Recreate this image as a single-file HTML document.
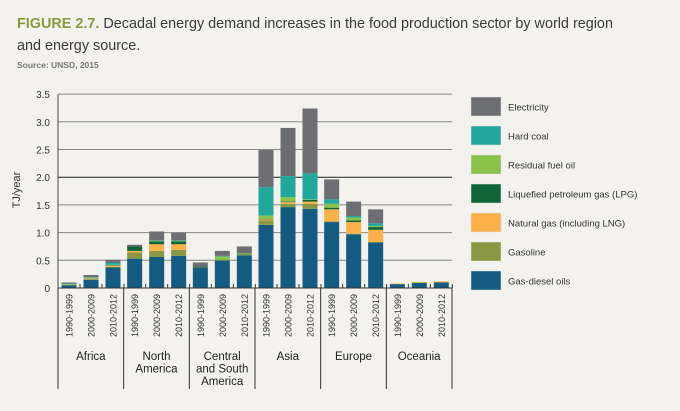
<!DOCTYPE html>
<html><head><meta charset="utf-8"><style>
body{margin:0;background:#f3f2ee;font-family:"Liberation Sans",sans-serif}
svg{display:block}
</style></head><body>
<svg id="c" width="680" height="411" xmlns="http://www.w3.org/2000/svg">
<rect width="680" height="411" fill="#f3f2ee"/>
<text x="17" y="28" font-size="14.4" fill="#3a3a3a"><tspan font-weight="bold" fill="#8a9a3c">FIGURE 2.7.</tspan> Decadal energy demand increases in the food production sector by world region</text>
<text x="17" y="50" font-size="14.4" fill="#3a3a3a">and energy source.</text>
<text x="17" y="68" font-size="8.5" font-weight="bold" fill="#777">Source: UNSD, 2015</text>
<text transform="translate(20,190) rotate(-90)" text-anchor="middle" font-size="11" fill="#333">TJ/year</text>
<g id="grid"></g><g id="bars"></g><g id="xaxis"></g><g id="legend"></g>
</svg>
<script>
const regions=["Africa","North America","Central and South America","Asia","Europe","Oceania"];
const regionLines=[["Africa"],["North","America"],["Central","and South","America"],["Asia"],["Europe"],["Oceania"]];
const periods=["1990-1999","2000-2009","2010-2012"];
const sources=["Gas-diesel oils","Gasoline","Natural gas (including LNG)","Liquefied petroleum gas (LPG)","Residual fuel oil","Hard coal","Electricity"];
const colors=["#135b80","#8a9843","#fbb04a","#0e6437","#8bc34a","#22a79c","#6d6e71"];
const yTicks=[0,0.5,1.0,1.5,2.0,2.5,3.0,3.5];
const gasDiesel=[0.05,0.15,0.37, 0.53,0.56,0.58, 0.37,0.49,0.59, 1.14,1.46,1.43, 1.19,0.97,0.82, 0.07,0.09,0.10];
const gasoline=[0.01,0.01,0.01, 0.11,0.11,0.11, 0.01,0.01,0.02, 0.08,0.06,0.09, 0.01,0.01,0.01, 0,0,0];
const natGas=[0,0.01,0.02, 0.03,0.12,0.10, 0,0,0, 0.02,0.03,0.04, 0.22,0.21,0.22, 0.01,0.01,0.02];
const lpg=[0,0.005,0.01, 0.08,0.05,0.05, 0.01,0.01,0.01, 0.01,0.01,0.03, 0.03,0.03,0.05, 0,0,0];
const residual=[0.01,0.01,0.01, 0,0.01,0.01, 0,0.06,0.01, 0.06,0.08,0.01, 0.07,0.05,0.02, 0,0.01,0];
const hardCoal=[0.01,0.01,0.04, 0,0.01,0.01, 0,0.01,0, 0.51,0.38,0.47, 0.08,0.03,0.05, 0,0,0];
const electricity=[0.02,0.04,0.05, 0.03,0.16,0.14, 0.07,0.09,0.12, 0.67,0.87,1.17, 0.36,0.26,0.25, 0,0,0];
const series=[gasDiesel,gasoline,natGas,lpg,residual,hardCoal,electricity];
const NS="http://www.w3.org/2000/svg";
const X0=58,X1=452,Y0=288,PX=55.4;
const gw=(X1-X0)/regions.length;
const y=v=>Y0-v*PX;
const xc=(g,p)=>X0+g*gw+11+p*22;
function mk(tag,at,parent,txt){const e=document.createElementNS(NS,tag);for(const k in at)e.setAttribute(k,at[k]);if(txt!==undefined)e.textContent=txt;parent.appendChild(e);return e;}
const grid=document.getElementById('grid'),bars=document.getElementById('bars'),xa=document.getElementById('xaxis'),lg=document.getElementById('legend');
yTicks.forEach((t,i)=>{
 const l=mk('line',{x1:X0,x2:X1,y1:y(t),y2:y(t),stroke:i==4?'#222':'#888','stroke-width':1},grid);
 
 
 const tx=mk('text',{x:X0-8,y:y(t)+4,'text-anchor':'end','font-size':10,fill:'#333'},grid,t==0?'0':t.toFixed(1));
 
 
});
const ax=mk('line',{x1:X0,x2:X0,y1:y(3.5),y2:Y0,stroke:'#444'},grid);


regions.forEach((r,g)=>{
 periods.forEach((p,pi)=>{
  const i=g*3+pi;let acc=0;
  series.forEach((s,si)=>{
   const v=s[i];if(v<=0)return;
   const rc=mk('rect',{x:xc(g,pi)-7.5,y:y(acc+v),width:15,height:v*PX,fill:colors[si]},bars);
   
   
   acc+=v;
  });
  const tl=mk('text',{transform:`translate(${xc(g,pi)+3.5},294) rotate(-90)`,'text-anchor':'end','font-size':9,fill:'#333'},xa,p);
  
  
  const tk=mk('line',{x1:xc(g,pi)+11,x2:xc(g,pi)+11,y1:Y0-4,y2:Y0,stroke:'#333'},xa);
  
  
 });
 regionLines[g].forEach((ln,li)=>{
  const t=mk('text',{x:X0+g*gw+gw/2,y:360+li*12.5,'text-anchor':'middle','font-size':11.5,fill:'#222'},xa,ln);
  
  
 });
});
for(let g=0;g<=regions.length;g++){
 const d=mk('line',{x1:X0+g*gw,x2:X0+g*gw,y1:Y0,y2:389,stroke:'#333'},xa);
 
 
}
const bl=mk('line',{x1:X0,x2:X1,y1:Y0,y2:Y0,stroke:'#333'},xa);


for(let k=0;k<sources.length;k++){
 const si=sources.length-1-k,yy=97+k*29;
 const sw=mk('rect',{x:471,y:yy,width:30,height:19,fill:colors[si],stroke:'#e0e0e0','stroke-width':0.5},lg);
 
 
 const lt=mk('text',{x:508,y:yy+13.5,'font-size':9.5,fill:'#333'},lg,sources[si]);
 
 
}
</script>
</body></html>
